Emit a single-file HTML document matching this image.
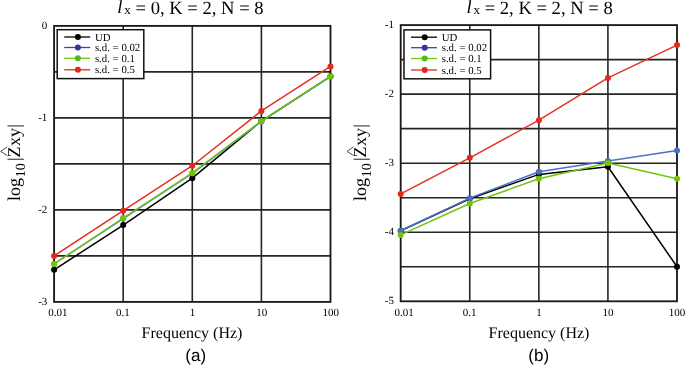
<!DOCTYPE html>
<html><head><meta charset="utf-8"><style>
html,body{margin:0;padding:0;background:#fff;}
body{width:685px;height:365px;overflow:hidden;}
svg{display:block;will-change:transform;text-rendering:geometricPrecision;}
</style></head><body>
<svg width="685" height="365" viewBox="0 0 685 365">
<rect width="685" height="365" fill="#fff"/>
<line x1="54.10" y1="71.90" x2="330.50" y2="71.90" stroke="#232723" stroke-width="1.6"/>
<line x1="54.10" y1="117.90" x2="330.50" y2="117.90" stroke="#232723" stroke-width="1.6"/>
<line x1="54.10" y1="163.90" x2="330.50" y2="163.90" stroke="#232723" stroke-width="1.6"/>
<line x1="54.10" y1="209.90" x2="330.50" y2="209.90" stroke="#232723" stroke-width="1.6"/>
<line x1="54.10" y1="255.90" x2="330.50" y2="255.90" stroke="#232723" stroke-width="1.6"/>
<line x1="123.20" y1="25.90" x2="123.20" y2="301.90" stroke="#232723" stroke-width="1.6"/>
<line x1="192.30" y1="25.90" x2="192.30" y2="301.90" stroke="#232723" stroke-width="1.6"/>
<line x1="261.40" y1="25.90" x2="261.40" y2="301.90" stroke="#232723" stroke-width="1.6"/>
<rect x="54.10" y="25.90" width="276.40" height="276.00" fill="none" stroke="#1a1a1a" stroke-width="1.85"/>
<polyline points="54.10,269.79 123.20,225.08 192.30,178.16 261.40,121.03 330.50,76.32" fill="none" stroke="#000" stroke-width="1.5" stroke-linejoin="round"/>
<circle cx="54.10" cy="269.79" r="3.0" fill="#000"/>
<circle cx="123.20" cy="225.08" r="3.0" fill="#000"/>
<circle cx="192.30" cy="178.16" r="3.0" fill="#000"/>
<circle cx="261.40" cy="121.03" r="3.0" fill="#000"/>
<circle cx="330.50" cy="76.32" r="3.0" fill="#000"/>
<polyline points="54.10,263.90 123.20,218.55 192.30,173.38 261.40,121.49 330.50,76.68" fill="none" stroke="#4a72c6" stroke-width="1.5" stroke-linejoin="round"/>
<circle cx="54.10" cy="263.90" r="3.0" fill="#4871c6"/>
<circle cx="123.20" cy="218.55" r="3.0" fill="#4871c6"/>
<circle cx="192.30" cy="173.38" r="3.0" fill="#4871c6"/>
<circle cx="261.40" cy="121.49" r="3.0" fill="#4871c6"/>
<circle cx="330.50" cy="76.68" r="3.0" fill="#4871c6"/>
<polyline points="54.10,263.90 123.20,218.00 192.30,172.92 261.40,121.03 330.50,76.32" fill="none" stroke="#74c410" stroke-width="1.5" stroke-linejoin="round"/>
<circle cx="54.10" cy="263.90" r="3.0" fill="#72c600"/>
<circle cx="123.20" cy="218.00" r="3.0" fill="#72c600"/>
<circle cx="192.30" cy="172.92" r="3.0" fill="#72c600"/>
<circle cx="261.40" cy="121.03" r="3.0" fill="#72c600"/>
<circle cx="330.50" cy="76.32" r="3.0" fill="#72c600"/>
<polyline points="54.10,255.90 123.20,210.64 192.30,165.74 261.40,110.91 330.50,66.38" fill="none" stroke="#e3301f" stroke-width="1.5" stroke-linejoin="round"/>
<circle cx="54.10" cy="255.90" r="3.0" fill="#e2291d"/>
<circle cx="123.20" cy="210.64" r="3.0" fill="#e2291d"/>
<circle cx="192.30" cy="165.74" r="3.0" fill="#e2291d"/>
<circle cx="261.40" cy="110.91" r="3.0" fill="#e2291d"/>
<circle cx="330.50" cy="66.38" r="3.0" fill="#e2291d"/>
<text x="47.30" y="29.10" text-anchor="end" font-family='"Liberation Serif", serif' font-size="11">0</text>
<text x="47.30" y="121.10" text-anchor="end" font-family='"Liberation Serif", serif' font-size="11">-1</text>
<text x="47.30" y="213.10" text-anchor="end" font-family='"Liberation Serif", serif' font-size="11">-2</text>
<text x="47.30" y="305.10" text-anchor="end" font-family='"Liberation Serif", serif' font-size="11">-3</text>
<text x="57.80" y="316" text-anchor="middle" font-family='"Liberation Serif", serif' font-size="11">0.01</text>
<text x="122.80" y="316" text-anchor="middle" font-family='"Liberation Serif", serif' font-size="11">0.1</text>
<text x="192.40" y="316" text-anchor="middle" font-family='"Liberation Serif", serif' font-size="11">1</text>
<text x="261.70" y="316" text-anchor="middle" font-family='"Liberation Serif", serif' font-size="11">10</text>
<text x="330.70" y="316" text-anchor="middle" font-family='"Liberation Serif", serif' font-size="11">100</text>
<text x="192.00" y="338.00" text-anchor="middle" font-family='"Liberation Serif", serif' font-size="16">Frequency (Hz)</text>
<text x="195.70" y="361.4" text-anchor="middle" font-family='"Liberation Sans", sans-serif' font-size="17">(a)</text>
<text x="117.30" y="12.8" font-family='"Liberation Serif", serif' font-size="18.5" font-style="italic">l</text>
<text x="124.30" y="14" font-family='"Liberation Serif", serif' font-size="13">x</text>
<text x="130.90" y="14" font-family='"Liberation Serif", serif' font-size="18.6" xml:space="preserve"> = 0, K = 2, N = 8</text>
<g transform="translate(19.70,201.00) rotate(-90)"><text x="0" y="0" font-family='"Liberation Serif", serif' font-size="18">log<tspan font-size="14" dy="5.2" dx="0.7">10</tspan><tspan dy="-5.2" dx="2.2">|</tspan><tspan dx="-0.1">Z</tspan><tspan dx="0.6">xy</tspan><tspan dx="0.3">|</tspan></text></g>
<polyline points="7.20,146.90 0.70,151.40 7.40,155.70" fill="none" stroke="#333" stroke-width="0.9"/>
<rect x="57.20" y="29.70" width="86.6" height="48.9" fill="#fff" stroke="#111" stroke-width="1.5"/>
<line x1="64.20" y1="37.00" x2="90.20" y2="37.00" stroke="#000" stroke-width="1.3"/>
<circle cx="77.90" cy="37.00" r="3" fill="#000"/>
<text x="94.90" y="40.50" font-family='"Liberation Serif", serif' font-size="10.8">UD</text>
<line x1="64.20" y1="47.50" x2="90.20" y2="47.50" stroke="#3a42b0" stroke-width="1.3"/>
<circle cx="77.90" cy="47.50" r="3" fill="#3035a5"/>
<text x="94.90" y="51.00" font-family='"Liberation Serif", serif' font-size="10.8">s.d. = 0.02</text>
<line x1="64.20" y1="58.30" x2="90.20" y2="58.30" stroke="#70c810" stroke-width="1.3"/>
<circle cx="77.90" cy="58.30" r="3" fill="#50bc20"/>
<text x="94.90" y="61.80" font-family='"Liberation Serif", serif' font-size="10.8">s.d. = 0.1</text>
<line x1="64.20" y1="69.80" x2="90.20" y2="69.80" stroke="#e02a1a" stroke-width="1.3"/>
<circle cx="77.90" cy="69.80" r="3" fill="#e0281a"/>
<text x="94.90" y="73.30" font-family='"Liberation Serif", serif' font-size="10.8">s.d. = 0.5</text>
<line x1="400.70" y1="59.62" x2="677.00" y2="59.62" stroke="#232723" stroke-width="1.6"/>
<line x1="400.70" y1="94.15" x2="677.00" y2="94.15" stroke="#232723" stroke-width="1.6"/>
<line x1="400.70" y1="128.67" x2="677.00" y2="128.67" stroke="#232723" stroke-width="1.6"/>
<line x1="400.70" y1="163.20" x2="677.00" y2="163.20" stroke="#232723" stroke-width="1.6"/>
<line x1="400.70" y1="197.72" x2="677.00" y2="197.72" stroke="#232723" stroke-width="1.6"/>
<line x1="400.70" y1="232.25" x2="677.00" y2="232.25" stroke="#232723" stroke-width="1.6"/>
<line x1="400.70" y1="266.77" x2="677.00" y2="266.77" stroke="#232723" stroke-width="1.6"/>
<line x1="469.77" y1="25.10" x2="469.77" y2="301.30" stroke="#232723" stroke-width="1.6"/>
<line x1="538.85" y1="25.10" x2="538.85" y2="301.30" stroke="#232723" stroke-width="1.6"/>
<line x1="607.92" y1="25.10" x2="607.92" y2="301.30" stroke="#232723" stroke-width="1.6"/>
<rect x="400.70" y="25.10" width="276.30" height="276.20" fill="none" stroke="#1a1a1a" stroke-width="1.85"/>
<polyline points="400.70,230.80 469.77,198.76 538.85,174.39 607.92,166.72 677.00,266.71" fill="none" stroke="#000" stroke-width="1.5" stroke-linejoin="round"/>
<circle cx="400.70" cy="230.80" r="3.0" fill="#000"/>
<circle cx="469.77" cy="198.76" r="3.0" fill="#000"/>
<circle cx="538.85" cy="174.39" r="3.0" fill="#000"/>
<circle cx="607.92" cy="166.72" r="3.0" fill="#000"/>
<circle cx="677.00" cy="266.71" r="3.0" fill="#000"/>
<polyline points="400.70,230.73 469.77,198.14 538.85,171.69 607.92,160.92 677.00,150.49" fill="none" stroke="#4a72c6" stroke-width="1.5" stroke-linejoin="round"/>
<circle cx="400.70" cy="230.73" r="3.0" fill="#4871c6"/>
<circle cx="469.77" cy="198.14" r="3.0" fill="#4871c6"/>
<circle cx="538.85" cy="171.69" r="3.0" fill="#4871c6"/>
<circle cx="607.92" cy="160.92" r="3.0" fill="#4871c6"/>
<circle cx="677.00" cy="150.49" r="3.0" fill="#4871c6"/>
<polyline points="400.70,234.94 469.77,203.46 538.85,178.81 607.92,162.92 677.00,178.74" fill="none" stroke="#74c410" stroke-width="1.5" stroke-linejoin="round"/>
<circle cx="400.70" cy="234.94" r="3.0" fill="#72c600"/>
<circle cx="469.77" cy="203.46" r="3.0" fill="#72c600"/>
<circle cx="538.85" cy="178.81" r="3.0" fill="#72c600"/>
<circle cx="607.92" cy="162.92" r="3.0" fill="#72c600"/>
<circle cx="677.00" cy="178.74" r="3.0" fill="#72c600"/>
<polyline points="400.70,193.93 469.77,157.81 538.85,120.18 607.92,77.92 677.00,45.12" fill="none" stroke="#e3301f" stroke-width="1.5" stroke-linejoin="round"/>
<circle cx="400.70" cy="193.93" r="3.0" fill="#e2291d"/>
<circle cx="469.77" cy="157.81" r="3.0" fill="#e2291d"/>
<circle cx="538.85" cy="120.18" r="3.0" fill="#e2291d"/>
<circle cx="607.92" cy="77.92" r="3.0" fill="#e2291d"/>
<circle cx="677.00" cy="45.12" r="3.0" fill="#e2291d"/>
<text x="394.00" y="27.60" text-anchor="end" font-family='"Liberation Serif", serif' font-size="11">-1</text>
<text x="394.00" y="96.65" text-anchor="end" font-family='"Liberation Serif", serif' font-size="11">-2</text>
<text x="394.00" y="165.70" text-anchor="end" font-family='"Liberation Serif", serif' font-size="11">-3</text>
<text x="394.00" y="234.75" text-anchor="end" font-family='"Liberation Serif", serif' font-size="11">-4</text>
<text x="394.00" y="303.80" text-anchor="end" font-family='"Liberation Serif", serif' font-size="11">-5</text>
<text x="404.00" y="316" text-anchor="middle" font-family='"Liberation Serif", serif' font-size="11">0.01</text>
<text x="469.50" y="316" text-anchor="middle" font-family='"Liberation Serif", serif' font-size="11">0.1</text>
<text x="539.00" y="316" text-anchor="middle" font-family='"Liberation Serif", serif' font-size="11">1</text>
<text x="608.00" y="316" text-anchor="middle" font-family='"Liberation Serif", serif' font-size="11">10</text>
<text x="677.00" y="316" text-anchor="middle" font-family='"Liberation Serif", serif' font-size="11">100</text>
<text x="539.00" y="338.00" text-anchor="middle" font-family='"Liberation Serif", serif' font-size="16">Frequency (Hz)</text>
<text x="538.70" y="361.4" text-anchor="middle" font-family='"Liberation Sans", sans-serif' font-size="17">(b)</text>
<text x="466.40" y="12.8" font-family='"Liberation Serif", serif' font-size="18.5" font-style="italic">l</text>
<text x="473.40" y="14" font-family='"Liberation Serif", serif' font-size="13">x</text>
<text x="480.00" y="14" font-family='"Liberation Serif", serif' font-size="18.6" xml:space="preserve"> = 2, K = 2, N = 8</text>
<g transform="translate(366.00,201.00) rotate(-90)"><text x="0" y="0" font-family='"Liberation Serif", serif' font-size="18">log<tspan font-size="14" dy="5.2" dx="0.7">10</tspan><tspan dy="-5.2" dx="2.2">|</tspan><tspan dx="-0.1">Z</tspan><tspan dx="0.6">xy</tspan><tspan dx="0.3">|</tspan></text></g>
<polyline points="353.50,146.90 347.00,151.40 353.70,155.70" fill="none" stroke="#333" stroke-width="0.9"/>
<rect x="404.00" y="29.90" width="86.6" height="48.9" fill="#fff" stroke="#111" stroke-width="1.5"/>
<line x1="411.00" y1="37.20" x2="437.00" y2="37.20" stroke="#000" stroke-width="1.3"/>
<circle cx="424.70" cy="37.20" r="3" fill="#000"/>
<text x="441.70" y="40.70" font-family='"Liberation Serif", serif' font-size="10.8">UD</text>
<line x1="411.00" y1="47.70" x2="437.00" y2="47.70" stroke="#3a42b0" stroke-width="1.3"/>
<circle cx="424.70" cy="47.70" r="3" fill="#3035a5"/>
<text x="441.70" y="51.20" font-family='"Liberation Serif", serif' font-size="10.8">s.d. = 0.02</text>
<line x1="411.00" y1="58.50" x2="437.00" y2="58.50" stroke="#70c810" stroke-width="1.3"/>
<circle cx="424.70" cy="58.50" r="3" fill="#50bc20"/>
<text x="441.70" y="62.00" font-family='"Liberation Serif", serif' font-size="10.8">s.d. = 0.1</text>
<line x1="411.00" y1="70.00" x2="437.00" y2="70.00" stroke="#e02a1a" stroke-width="1.3"/>
<circle cx="424.70" cy="70.00" r="3" fill="#e0281a"/>
<text x="441.70" y="73.50" font-family='"Liberation Serif", serif' font-size="10.8">s.d. = 0.5</text>
</svg>
</body></html>
